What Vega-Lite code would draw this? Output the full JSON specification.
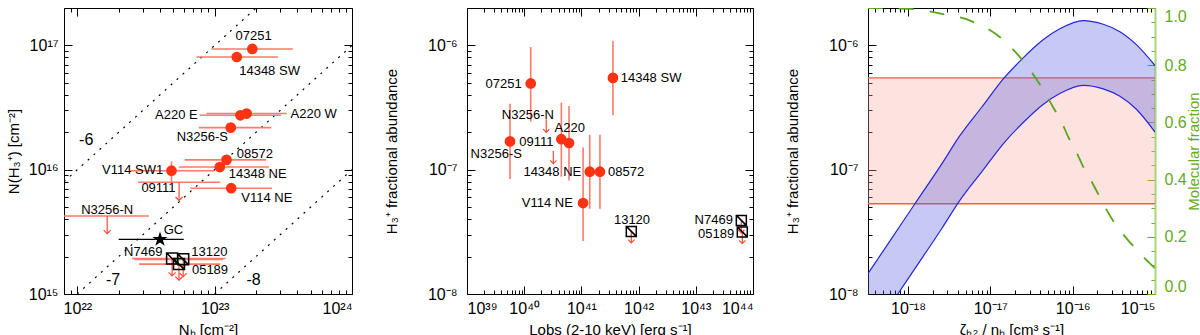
{
  "$schema": "https://vega.github.io/schema/vega-lite/v6.json",
  "padding": {"left": 5, "top": 4, "right": 0, "bottom": 0},
  "bounds": "flush",
  "spacing": 115,
  "config": {
    "font": "Liberation Sans",
    "view": {"stroke": "black", "strokeWidth": 1},
    "axis": {"grid": false, "domain": false, "tickColor": "black", "tickSize": -8, "labelFontSize": 16, "titleFontSize": 15, "titleFontWeight": "normal", "labelColor": "black", "titleColor": "black", "labelOverlap": false}
  },
  "datasets": {
    "ratios": [
      {"r": "-6", "nh": 8e21, "n": 8e15}, {"r": "-6", "nh": 2e23, "n": 2e17},
      {"r": "-7", "nh": 1e22, "n": 1e15}, {"r": "-7", "nh": 1e24, "n": 1e17},
      {"r": "-8", "nh": 1e23, "n": 1e15}, {"r": "-8", "nh": 1e24, "n": 1e16}
    ],
    "p1det": [
      {"name": "07251", "nh": 1.88e23, "nlo": 9.46e22, "nhi": 3.71e23, "n": 9.36e16},
      {"name": "14348 SW", "nh": 1.45e23, "nlo": 7.36e22, "nhi": 2.89e23, "n": 8.07e16},
      {"name": "A220 W", "nh": 1.71e23, "nlo": 8.7e22, "nhi": 3.35e23, "n": 2.83e16},
      {"name": "A220 E", "nh": 1.54e23, "nlo": 7.78e22, "nhi": 3.05e23, "n": 2.74e16},
      {"name": "N3256-S", "nh": 1.31e23, "nlo": 7.66e22, "nhi": 2.58e23, "n": 2.18e16},
      {"name": "08572", "nh": 1.22e23, "nlo": 6.05e22, "nhi": 2.37e23, "n": 1.2e16},
      {"name": "14348 NE", "nh": 1.09e23, "nlo": 5.48e22, "nhi": 2.48e23, "n": 1.05e16},
      {"name": "V114 SW1", "nh": 4.85e22, "nlo": 2.44e22, "nhi": 1.0e23, "n": 9.82e15, "ylo": 7.93e15, "yhi": 1.17e16},
      {"name": "V114 NE", "nh": 1.32e23, "nlo": 6.67e22, "nhi": 2.62e23, "n": 7.1e15}
    ],
    "p1ul": [
      {"name": "09111", "nh": 5.51e22, "nlo": 2.77e22, "nhi": 1.1e23, "n": 7.93e15, "nend": 5.65e15, "sym": false},
      {"name": "N3256-N", "nh": 1.65e22, "nlo": 8.0e21, "nhi": 3.32e22, "n": 4.24e15, "nend": 3.06e15, "sym": false},
      {"name": "N7469", "nh": 4.9e22, "nlo": 2.5e22, "nhi": 1.2e23, "n": 1.93e15, "nend": 1.4e15, "sym": true},
      {"name": "13120", "nh": 5.9e22, "nlo": 2.6e22, "nhi": 1.15e23, "n": 1.9e15, "nend": 1.38e15, "sym": true},
      {"name": "05189", "nh": 5.5e22, "nlo": 2.82e22, "nhi": 1.1e23, "n": 1.74e15, "nend": 1.29e15, "sym": true}
    ],
    "p1gc": [{"name": "GC", "nh": 4.0e22, "nlo": 2.0e22, "nhi": 5.96e22, "n": 2.75e15}],
    "p1lab": [
      {"t": "07251", "x": 1.92e23, "y": 1.18e17},
      {"t": "14348 SW", "x": 2.51e23, "y": 6.28e16},
      {"t": "A220 E", "x": 5.27e22, "y": 2.74e16},
      {"t": "A220 W", "x": 5.26e23, "y": 2.83e16},
      {"t": "N3256-S", "x": 8.14e22, "y": 1.85e16},
      {"t": "08572", "x": 1.96e23, "y": 1.33e16},
      {"t": "14348 NE", "x": 2.06e23, "y": 9.19e15},
      {"t": "V114 SW1", "x": 2.53e22, "y": 9.89e15},
      {"t": "09111", "x": 3.9e22, "y": 7.14e15},
      {"t": "V114 NE", "x": 2.4e23, "y": 5.97e15},
      {"t": "N3256-N", "x": 1.65e22, "y": 4.76e15},
      {"t": "GC", "x": 5.01e22, "y": 3.28e15},
      {"t": "N7469", "x": 3.02e22, "y": 2.17e15},
      {"t": "13120", "x": 9.15e22, "y": 2.17e15},
      {"t": "05189", "x": 9.25e22, "y": 1.56e15}
    ],
    "p1rlab": [
      {"t": "-6", "x": 1.16e22, "y": 1.73e16},
      {"t": "-7", "x": 1.82e22, "y": 1.29e15},
      {"t": "-8", "x": 1.92e23, "y": 1.29e15}
    ],
    "p2det": [
      {"name": "07251", "L": 1.3e40, "f": 4.94e-7, "flo": 2.44e-7, "fhi": 9.7e-7},
      {"name": "14348 SW", "L": 3.56e41, "f": 5.48e-7, "flo": 2.74e-7, "fhi": 1.09e-6},
      {"name": "N3256-S", "L": 5.65e39, "f": 1.69e-7, "flo": 8.43e-8, "fhi": 3.4e-7},
      {"name": "A220 E", "L": 4.46e40, "f": 1.76e-7, "flo": 8.79e-8, "fhi": 3.46e-7},
      {"name": "A220 W", "L": 6.07e40, "f": 1.64e-7, "flo": 8.17e-8, "fhi": 3.25e-7},
      {"name": "14348 NE", "L": 1.4e41, "f": 9.64e-8, "flo": 4.85e-8, "fhi": 1.91e-7},
      {"name": "08572", "L": 2.11e41, "f": 9.64e-8, "flo": 4.85e-8, "fhi": 1.91e-7},
      {"name": "V114 NE", "L": 1.07e41, "f": 5.39e-8, "flo": 2.67e-8, "fhi": 1.51e-7}
    ],
    "p2ul": [
      {"name": "N3256-N", "L": 2.43e40, "f": 2.55e-7, "fend": 2.0e-7, "sym": false},
      {"name": "09111", "L": 3.23e40, "f": 1.42e-7, "fend": 1.12e-7, "sym": false},
      {"name": "13120", "L": 7.45e41, "f": 3.19e-8, "fend": 2.58e-8, "sym": true},
      {"name": "N7469", "L": 6.25e43, "f": 3.91e-8, "fend": 3.1e-8, "sym": true},
      {"name": "05189", "L": 6.5e43, "f": 3.16e-8, "fend": 2.55e-8, "sym": true}
    ],
    "p2lab": [
      {"t": "07251", "x": 4.38e39, "y": 4.91e-7},
      {"t": "14348 SW", "x": 1.65e42, "y": 5.48e-7},
      {"t": "N3256-N", "x": 1.16e40, "y": 2.77e-7},
      {"t": "A220", "x": 6.24e40, "y": 2.17e-7},
      {"t": "09111", "x": 1.63e40, "y": 1.67e-7},
      {"t": "N3256-S", "x": 3.25e39, "y": 1.35e-7},
      {"t": "14348 NE", "x": 3.1e40, "y": 9.64e-8},
      {"t": "08572", "x": 6.03e41, "y": 9.64e-8},
      {"t": "V114 NE", "x": 2.54e40, "y": 5.38e-8},
      {"t": "13120", "x": 7.67e41, "y": 3.94e-8},
      {"t": "N7469", "x": 2.06e43, "y": 3.94e-8},
      {"t": "05189", "x": 2.26e43, "y": 3.04e-8}
    ],
    "band": [
      {"x": 3.27e-19, "up": 1.46e-8, "lo": 4.4e-9},
      {"x": 6.31e-19, "up": 2.79e-8, "lo": 8.4e-9},
      {"x": 1.213e-18, "up": 5.32e-8, "lo": 1.6e-8},
      {"x": 2.564e-18, "up": 1.11e-7, "lo": 3.35e-8},
      {"x": 4.246e-18, "up": 1.87e-7, "lo": 5.64e-8},
      {"x": 7.94e-18, "up": 3.21e-7, "lo": 9.7e-8},
      {"x": 1.496e-17, "up": 5.55e-7, "lo": 1.67e-7},
      {"x": 2.388e-17, "up": 7.69e-7, "lo": 2.32e-7},
      {"x": 4.375e-17, "up": 1.11e-6, "lo": 3.35e-7},
      {"x": 6.982e-17, "up": 1.36e-6, "lo": 4.1e-7},
      {"x": 1.343e-16, "up": 1.585e-6, "lo": 4.77e-7},
      {"x": 2.35e-16, "up": 1.48e-6, "lo": 4.47e-7},
      {"x": 3.75e-16, "up": 1.29e-6, "lo": 3.9e-7},
      {"x": 5.98e-16, "up": 1.01e-6, "lo": 3.05e-7},
      {"x": 1e-15, "up": 6.89e-7, "lo": 2.01e-7}
    ],
    "frac": [
      {"x": 3.25e-19, "m": 1.0}, {"x": 1.045e-18, "m": 0.997}, {"x": 2.42e-18, "m": 0.981},
      {"x": 5.77e-18, "m": 0.955}, {"x": 1.336e-17, "m": 0.896}, {"x": 2.48e-17, "m": 0.816},
      {"x": 4.22e-17, "m": 0.722}, {"x": 5.79e-17, "m": 0.653}, {"x": 7.33e-17, "m": 0.602},
      {"x": 8.81e-17, "m": 0.55}, {"x": 1.094e-16, "m": 0.5}, {"x": 1.318e-16, "m": 0.45},
      {"x": 1.649e-16, "m": 0.4}, {"x": 2.04e-16, "m": 0.35}, {"x": 2.535e-16, "m": 0.298},
      {"x": 3.26e-16, "m": 0.246}, {"x": 4.2e-16, "m": 0.205}, {"x": 5.71e-16, "m": 0.161},
      {"x": 7.78e-16, "m": 0.12}, {"x": 1e-15, "m": 0.09}
    ],
    "obs": [{"lo": 5.32e-8, "hi": 5.48e-7}]
  },
  "hconcat": [
    {
      "width": 288, "height": 286,
      "layer": [
        {"layer": [
          {"data": {"name": "ratios"}, "mark": {"type": "line", "strokeDash": [2, 6], "color": "black", "strokeWidth": 1.2, "clip": true},
           "encoding": {
             "x": {"field": "nh", "type": "quantitative", "scale": {"type": "log", "domain": [8e21, 1e24], "nice": false},
                   "axis": {"orient": "bottom", "title": "Nₕ [cm⁻²]", "values": [8e21, 9e21, 1e22, 2e22, 3e22, 4e22, 5e22, 6e22, 7e22, 8e22, 9e22, 1e23, 2e23, 3e23, 4e23, 5e23, 6e23, 7e23, 8e23, 9e23, 1e24],
                            "labelExpr": "datum.value==1e22?'10²²':datum.value==1e23?'10²³':datum.value==1e24?'10²⁴':''",
                            "tickSize": {"condition": {"test": "abs(log(datum.value)/LN10-round(log(datum.value)/LN10))<0.001", "value": -8}, "value": -4},
                            "labelPadding": 14, "titlePadding": 2}},
             "y": {"field": "n", "type": "quantitative", "scale": {"type": "log", "domain": [1e15, 2e17], "nice": false},
                   "axis": {"orient": "left", "title": "N(H₃⁺) [cm⁻²]", "values": [1e15, 2e15, 3e15, 4e15, 5e15, 6e15, 7e15, 8e15, 9e15, 1e16, 2e16, 3e16, 4e16, 5e16, 6e16, 7e16, 8e16, 9e16, 1e17],
                            "labelExpr": "datum.value==1e15?'10¹⁵':datum.value==1e16?'10¹⁶':datum.value==1e17?'10¹⁷':''",
                            "tickSize": {"condition": {"test": "abs(log(datum.value)/LN10-round(log(datum.value)/LN10))<0.001", "value": -8}, "value": -4},
                            "labelPadding": 14, "titlePadding": 7}},
             "detail": {"field": "r", "type": "nominal"}}},
          {"data": {"name": "p1det"}, "mark": {"type": "rule", "color": "#ff7a68", "strokeWidth": 1.6},
           "encoding": {"x": {"field": "nlo", "type": "quantitative"}, "x2": {"field": "nhi"}, "y": {"field": "n", "type": "quantitative"}}},
          {"data": {"name": "p1ul"}, "mark": {"type": "rule", "color": "#ff7a68", "strokeWidth": 1.6, "clip": true},
           "encoding": {"x": {"field": "nlo", "type": "quantitative"}, "x2": {"field": "nhi"}, "y": {"field": "n", "type": "quantitative"}}},
          {"data": {"name": "p1det"}, "transform": [{"filter": "isValid(datum.ylo)"}], "mark": {"type": "rule", "color": "#ff7a68", "strokeWidth": 1.6},
           "encoding": {"x": {"field": "nh", "type": "quantitative"}, "y": {"field": "ylo", "type": "quantitative"}, "y2": {"field": "yhi"}}},
          {"data": {"name": "p1gc"}, "mark": {"type": "rule", "color": "black", "strokeWidth": 1.2},
           "encoding": {"x": {"field": "nlo", "type": "quantitative"}, "x2": {"field": "nhi"}, "y": {"field": "n", "type": "quantitative"}}},
          {"data": {"name": "p1det"}, "mark": {"type": "circle", "color": "#ff3311", "opacity": 1, "size": 115},
           "encoding": {"x": {"field": "nh", "type": "quantitative"}, "y": {"field": "n", "type": "quantitative"}}},
          {"data": {"name": "p1ul"}, "mark": {"type": "rule", "color": "#ff4a33", "strokeWidth": 1.2},
           "encoding": {"x": {"field": "nh", "type": "quantitative"}, "y": {"field": "n", "type": "quantitative"}, "y2": {"field": "nend"}}},
          {"data": {"name": "p1ul"}, "mark": {"type": "point", "shape": "M-1,-1L0,0L1,-1", "filled": false, "color": "#ff4a33", "strokeWidth": 1.2, "size": 50, "opacity": 1},
           "encoding": {"x": {"field": "nh", "type": "quantitative"}, "y": {"field": "nend", "type": "quantitative"}}},
          {"data": {"name": "p1ul"}, "transform": [{"filter": "datum.sym"}], "mark": {"type": "point", "shape": "M-1,-1L1,-1L1,1L-1,1ZM-1,-1L1,1", "filled": false, "color": "black", "strokeWidth": 1.5, "size": 121, "opacity": 1},
           "encoding": {"x": {"field": "nh", "type": "quantitative"}, "y": {"field": "n", "type": "quantitative"}}},
          {"data": {"name": "p1gc"}, "mark": {"type": "point", "shape": "M0,-1L0.225,-0.309L0.951,-0.309L0.363,0.118L0.588,0.809L0,0.382L-0.588,0.809L-0.363,0.118L-0.951,-0.309L-0.225,-0.309Z", "filled": true, "color": "black", "size": 256, "opacity": 1},
           "encoding": {"x": {"field": "nh", "type": "quantitative"}, "y": {"field": "n", "type": "quantitative"}}},
          {"data": {"name": "p1lab"}, "mark": {"type": "text", "fontSize": 13, "align": "center", "baseline": "middle", "color": "black"},
           "encoding": {"x": {"field": "x", "type": "quantitative"}, "y": {"field": "y", "type": "quantitative"}, "text": {"field": "t", "type": "nominal"}}},
          {"data": {"name": "p1rlab"}, "mark": {"type": "text", "fontSize": 16, "align": "center", "baseline": "middle", "color": "black"},
           "encoding": {"x": {"field": "x", "type": "quantitative"}, "y": {"field": "y", "type": "quantitative"}, "text": {"field": "t", "type": "nominal"}}}
        ]},
        {"data": {"name": "ratios"}, "mark": {"type": "point", "opacity": 0},
         "encoding": {
           "x": {"field": "nh", "type": "quantitative", "axis": {"orient": "top", "labels": false, "title": null, "values": [8e21, 9e21, 1e22, 2e22, 3e22, 4e22, 5e22, 6e22, 7e22, 8e22, 9e22, 1e23, 2e23, 3e23, 4e23, 5e23, 6e23, 7e23, 8e23, 9e23, 1e24],
                 "tickSize": {"condition": {"test": "abs(log(datum.value)/LN10-round(log(datum.value)/LN10))<0.001", "value": -8}, "value": -4}}},
           "y": {"field": "n", "type": "quantitative", "axis": {"orient": "right", "labels": false, "title": null, "values": [1e15, 2e15, 3e15, 4e15, 5e15, 6e15, 7e15, 8e15, 9e15, 1e16, 2e16, 3e16, 4e16, 5e16, 6e16, 7e16, 8e16, 9e16, 1e17],
                 "tickSize": {"condition": {"test": "abs(log(datum.value)/LN10-round(log(datum.value)/LN10))<0.001", "value": -8}, "value": -4}}}}}
      ],
      "resolve": {"axis": {"x": "independent", "y": "independent"}}
    },
    {
      "width": 286, "height": 286,
      "layer": [
        {"layer": [
          {"data": {"name": "p2det"}, "mark": {"type": "rule", "color": "#ff7a68", "strokeWidth": 1.6},
           "encoding": {
             "x": {"field": "L", "type": "quantitative", "scale": {"type": "log", "domain": [1e39, 1e44], "nice": false},
                   "axis": {"orient": "bottom", "title": "Lobs (2-10 keV) [erg s⁻¹]", "values": [1e39, 2e39, 3e39, 4e39, 5e39, 6e39, 7e39, 8e39, 9e39, 1e40, 2e40, 3e40, 4e40, 5e40, 6e40, 7e40, 8e40, 9e40, 1e41, 2e41, 3e41, 4e41, 5e41, 6e41, 7e41, 8e41, 9e41, 1e42, 2e42, 3e42, 4e42, 5e42, 6e42, 7e42, 8e42, 9e42, 1e43, 2e43, 3e43, 4e43, 5e43, 6e43, 7e43, 8e43, 9e43, 1e44],
                            "labelExpr": "datum.value==1e39?'10³⁹':datum.value==1e40?'10⁴⁰':datum.value==1e41?'10⁴¹':datum.value==1e42?'10⁴²':datum.value==1e43?'10⁴³':datum.value==1e44?'10⁴⁴':''",
                            "tickSize": {"condition": {"test": "abs(log(datum.value)/LN10-round(log(datum.value)/LN10))<0.001", "value": -8}, "value": -4},
                            "labelPadding": 14, "titlePadding": 2}},
             "y": {"field": "flo", "type": "quantitative", "scale": {"type": "log", "domain": [1e-8, 2e-6], "nice": false},
                   "axis": {"orient": "left", "title": "H₃⁺ fractional abundance", "values": [1e-8, 2e-8, 3e-8, 4e-8, 5e-8, 6e-8, 7e-8, 8e-8, 9e-8, 1e-7, 2e-7, 3e-7, 4e-7, 5e-7, 6e-7, 7e-7, 8e-7, 9e-7, 1e-6],
                            "labelExpr": "datum.value==1e-8?'10⁻⁸':datum.value==1e-7?'10⁻⁷':datum.value==1e-6?'10⁻⁶':''",
                            "tickSize": {"condition": {"test": "abs(log(datum.value)/LN10-round(log(datum.value)/LN10))<0.001", "value": -8}, "value": -4},
                            "labelPadding": 18, "titlePadding": 28}},
             "y2": {"field": "fhi"}}},
          {"data": {"name": "p2det"}, "mark": {"type": "circle", "color": "#ff3311", "opacity": 1, "size": 115},
           "encoding": {"x": {"field": "L", "type": "quantitative"}, "y": {"field": "f", "type": "quantitative"}}},
          {"data": {"name": "p2ul"}, "mark": {"type": "rule", "color": "#ff4a33", "strokeWidth": 1.2},
           "encoding": {"x": {"field": "L", "type": "quantitative"}, "y": {"field": "f", "type": "quantitative"}, "y2": {"field": "fend"}}},
          {"data": {"name": "p2ul"}, "mark": {"type": "point", "shape": "M-1,-1L0,0L1,-1", "filled": false, "color": "#ff4a33", "strokeWidth": 1.2, "size": 40, "opacity": 1},
           "encoding": {"x": {"field": "L", "type": "quantitative"}, "y": {"field": "fend", "type": "quantitative"}}},
          {"data": {"name": "p2ul"}, "transform": [{"filter": "datum.sym"}], "mark": {"type": "point", "shape": "M-1,-1L1,-1L1,1L-1,1ZM-1,-1L1,1", "filled": false, "color": "black", "strokeWidth": 1.5, "size": 100, "opacity": 1},
           "encoding": {"x": {"field": "L", "type": "quantitative"}, "y": {"field": "f", "type": "quantitative"}}},
          {"data": {"name": "p2lab"}, "mark": {"type": "text", "fontSize": 13, "align": "center", "baseline": "middle", "color": "black"},
           "encoding": {"x": {"field": "x", "type": "quantitative"}, "y": {"field": "y", "type": "quantitative"}, "text": {"field": "t", "type": "nominal"}}}
        ]},
        {"data": {"name": "p2det"}, "mark": {"type": "point", "opacity": 0},
         "encoding": {
           "x": {"field": "L", "type": "quantitative", "axis": {"orient": "top", "labels": false, "title": null, "values": [1e39, 2e39, 3e39, 4e39, 5e39, 6e39, 7e39, 8e39, 9e39, 1e40, 2e40, 3e40, 4e40, 5e40, 6e40, 7e40, 8e40, 9e40, 1e41, 2e41, 3e41, 4e41, 5e41, 6e41, 7e41, 8e41, 9e41, 1e42, 2e42, 3e42, 4e42, 5e42, 6e42, 7e42, 8e42, 9e42, 1e43, 2e43, 3e43, 4e43, 5e43, 6e43, 7e43, 8e43, 9e43, 1e44],
                 "tickSize": {"condition": {"test": "abs(log(datum.value)/LN10-round(log(datum.value)/LN10))<0.001", "value": -8}, "value": -4}}},
           "y": {"field": "f", "type": "quantitative", "axis": {"orient": "right", "labels": false, "title": null, "values": [1e-8, 2e-8, 3e-8, 4e-8, 5e-8, 6e-8, 7e-8, 8e-8, 9e-8, 1e-7, 2e-7, 3e-7, 4e-7, 5e-7, 6e-7, 7e-7, 8e-7, 9e-7, 1e-6],
                 "tickSize": {"condition": {"test": "abs(log(datum.value)/LN10-round(log(datum.value)/LN10))<0.001", "value": -8}, "value": -4}}}}}
      ],
      "resolve": {"axis": {"x": "independent", "y": "independent"}}
    },
    {
      "width": 287, "height": 286,
      "layer": [
        {"layer": [
          {"data": {"name": "obs"}, "mark": {"type": "rect", "color": "#f9a99f", "opacity": 0.32},
           "encoding": {"x": {"datum": 3.27e-19, "type": "quantitative", "scale": {"type": "log", "domain": [3.27e-19, 1e-15], "nice": false},
                              "axis": {"orient": "bottom", "title": "ζₕ₂ / nₕ [cm³ s⁻¹]", "values": [4e-19, 5e-19, 6e-19, 7e-19, 8e-19, 9e-19, 1e-18, 2e-18, 3e-18, 4e-18, 5e-18, 6e-18, 7e-18, 8e-18, 9e-18, 1e-17, 2e-17, 3e-17, 4e-17, 5e-17, 6e-17, 7e-17, 8e-17, 9e-17, 1e-16, 2e-16, 3e-16, 4e-16, 5e-16, 6e-16, 7e-16, 8e-16, 9e-16, 1e-15],
                                       "labelExpr": "datum.value==1e-18?'10⁻¹⁸':datum.value==1e-17?'10⁻¹⁷':datum.value==1e-16?'10⁻¹⁶':datum.value==1e-15?'10⁻¹⁵':''",
                                       "tickSize": {"condition": {"test": "abs(log(datum.value)/LN10-round(log(datum.value)/LN10))<0.001", "value": -8}, "value": -4},
                                       "labelPadding": 14, "titlePadding": 2}},
                        "x2": {"datum": 1e-15},
                        "y": {"field": "lo", "type": "quantitative", "scale": {"type": "log", "domain": [1e-8, 2e-6], "nice": false},
                              "axis": {"orient": "left", "title": "H₃⁺ fractional abundance", "values": [1e-8, 2e-8, 3e-8, 4e-8, 5e-8, 6e-8, 7e-8, 8e-8, 9e-8, 1e-7, 2e-7, 3e-7, 4e-7, 5e-7, 6e-7, 7e-7, 8e-7, 9e-7, 1e-6],
                                       "labelExpr": "datum.value==1e-8?'10⁻⁸':datum.value==1e-7?'10⁻⁷':datum.value==1e-6?'10⁻⁶':''",
                                       "tickSize": {"condition": {"test": "abs(log(datum.value)/LN10-round(log(datum.value)/LN10))<0.001", "value": -8}, "value": -4},
                                       "labelPadding": 18, "titlePadding": 28}},
                        "y2": {"field": "hi"}}},
          {"data": {"name": "obs"}, "mark": {"type": "rule", "color": "#f25c4c", "strokeWidth": 1.3},
           "encoding": {"x": {"datum": 3.27e-19, "type": "quantitative"}, "x2": {"datum": 1e-15}, "y": {"field": "lo", "type": "quantitative"}}},
          {"data": {"name": "obs"}, "mark": {"type": "rule", "color": "#f25c4c", "strokeWidth": 1.3},
           "encoding": {"x": {"datum": 3.27e-19, "type": "quantitative"}, "x2": {"datum": 1e-15}, "y": {"field": "hi", "type": "quantitative"}}},
          {"data": {"name": "band"}, "mark": {"type": "area", "color": "#5056e0", "opacity": 0.32, "clip": true, "interpolate": "monotone"},
           "encoding": {"x": {"field": "x", "type": "quantitative"}, "y": {"field": "up", "type": "quantitative"}, "y2": {"field": "lo"}}},
          {"data": {"name": "band"}, "mark": {"type": "line", "color": "#2525dd", "strokeWidth": 1.2, "clip": true, "interpolate": "monotone"},
           "encoding": {"x": {"field": "x", "type": "quantitative"}, "y": {"field": "up", "type": "quantitative"}}},
          {"data": {"name": "band"}, "mark": {"type": "line", "color": "#2525dd", "strokeWidth": 1.2, "clip": true, "interpolate": "monotone"},
           "encoding": {"x": {"field": "x", "type": "quantitative"}, "y": {"field": "lo", "type": "quantitative"}}}
        ]},
        {"data": {"name": "frac"}, "mark": {"type": "line", "color": "#5aa51c", "strokeWidth": 1.8, "strokeDash": [15, 16], "clip": true, "interpolate": "monotone"},
         "encoding": {"x": {"field": "x", "type": "quantitative", "axis": {"orient": "top", "labels": false, "title": null, "values": [4e-19, 5e-19, 6e-19, 7e-19, 8e-19, 9e-19, 1e-18, 2e-18, 3e-18, 4e-18, 5e-18, 6e-18, 7e-18, 8e-18, 9e-18, 1e-17, 2e-17, 3e-17, 4e-17, 5e-17, 6e-17, 7e-17, 8e-17, 9e-17, 1e-16, 2e-16, 3e-16, 4e-16, 5e-16, 6e-16, 7e-16, 8e-16, 9e-16, 1e-15],
                               "tickSize": {"condition": {"test": "abs(log(datum.value)/LN10-round(log(datum.value)/LN10))<0.001", "value": -8}, "value": -4}}},
                      "y": {"field": "m", "type": "quantitative", "scale": {"domain": [0, 1], "nice": false, "zero": false},
                            "axis": {"orient": "right", "title": "Molecular fraction", "titleColor": "#66aa22", "labelColor": "#66aa22", "tickColor": "#66aa22",
                                     "domain": true, "domainColor": "#a6d67a", "domainWidth": 2, "labelFlush": true,
                                     "values": [0, 0.05, 0.1, 0.15, 0.2, 0.25, 0.3, 0.35, 0.4, 0.45, 0.5, 0.55, 0.6, 0.65, 0.7, 0.75, 0.8, 0.85, 0.9, 0.95, 1.0],
                                     "labelExpr": "abs(datum.value*5-round(datum.value*5))<0.001?format(datum.value,'.1f'):''",
                                     "tickSize": {"condition": {"test": "abs(datum.value*5-round(datum.value*5))<0.001", "value": -8}, "value": -4},
                                     "labelPadding": 17, "titlePadding": 0, "titleAngle": 270, "titleBaseline": "top"}}}}
      ],
      "resolve": {"scale": {"y": "independent"}, "axis": {"x": "independent"}}
    }
  ]
}
